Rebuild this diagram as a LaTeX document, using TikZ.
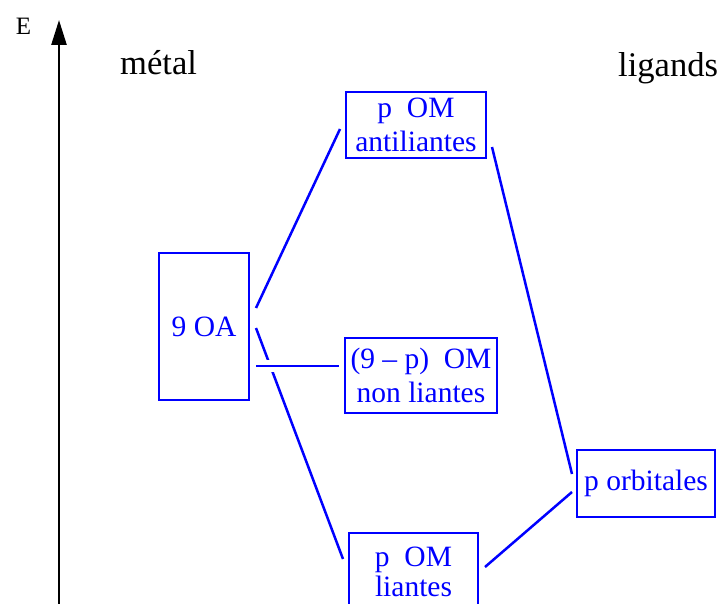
\documentclass[tikz,border=0pt]{standalone}
\usepackage{fontspec}
\setmainfont{Liberation Serif}
\newfontfamily\tnr{Liberation Serif}
\usetikzlibrary{arrows.meta}
\newcommand{\boxfont}{\tnr\fontsize{29.5}{34}\selectfont}
\newcommand{\labfont}{\tnr\fontsize{34.6}{40}\selectfont}
\newcommand{\efont}{\tnr\fontsize{25}{28}\selectfont}
\begin{document}
\begin{tikzpicture}[x=1pt,y=-1pt,
  obox/.style={draw=blue, line width=2.5pt, text=blue, font=\boxfont, align=center, inner sep=0pt},
  link/.style={draw=blue, line width=2.5pt},
  lab/.style={font=\labfont, inner sep=0pt, anchor=base west}]
\clip (0,0) rectangle (720,604);
\useasboundingbox (0,0) rectangle (720,604);
% axis
\coordinate (ax0) at (59,604);
\coordinate (ax1) at (59,20);
\draw[line width=2.5pt, -{Triangle[length=25pt,width=15pt]}] (ax0) -- (ax1);
\node[font=\efont, inner sep=0pt, anchor=base] (E) at (23.5,35) {E};
\node[lab] (metal) at (120,75) {métal};
\node[lab] (lig) at (618,77) {ligands};
% boxes
\node[obox, minimum width=90pt, minimum height=147pt] (oa) at (204,326.5) {9 OA};
\node[obox, minimum width=140pt, minimum height=66pt] (anti) at (416,125) {p\ \ OM\\antiliantes};
\node[obox, minimum width=152pt, minimum height=75pt] (non) at (421,375.5) {(9 – p)\ \ OM\\non liantes};
\node[obox, minimum width=138pt, minimum height=67pt] (orb) at (646,483.5) {p orbitales};
\node[obox, minimum width=129pt, minimum height=78pt, font=\tnr\fontsize{29.5}{30}\selectfont] (liant) at (413.5,572) {p\ \ OM\\liantes};
% connector ends
\coordinate (a1) at (256,308);
\coordinate (a2) at (340,129);
\coordinate (b1) at (256,328);
\coordinate (b2) at (343,559);
\coordinate (c1) at (256,366);
\coordinate (c2) at (339,366);
\coordinate (d1) at (492,147);
\coordinate (d2) at (572,474);
\coordinate (e1) at (485,567);
\coordinate (e2) at (572,492);
\draw[link] (a1) -- (a2);
\draw[link] (b1) -- (b2);
\draw[link, preaction={draw=white, line width=12pt}] (c1) -- (c2);
\draw[link] (d1) -- (d2);
\draw[link] (e1) -- (e2);
\end{tikzpicture}
\end{document}
